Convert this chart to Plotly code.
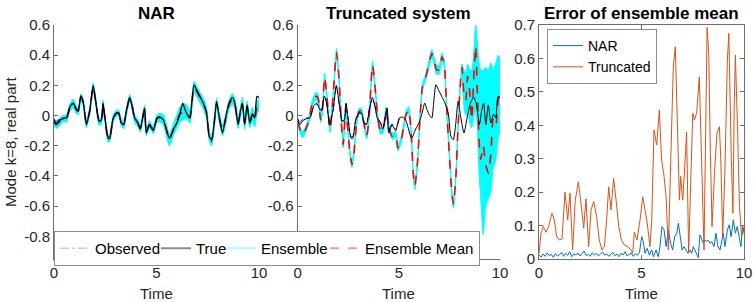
import numpy as np
import plotly.graph_objects as go

FONT = "Liberation Sans, Arial, Helvetica, sans-serif"
W, H = 753, 302

# ---------------- data ----------------
truth_time = [0, 0.1, 0.29, 0.45, 0.61, 0.78, 0.94, 1.1, 1.18, 1.31,
              1.42, 1.58, 1.75, 1.91, 2.07, 2.2, 2.31, 2.39, 2.48, 2.64,
              2.72, 2.88, 3.04, 3.16, 3.28, 3.4, 3.53, 3.69, 3.82, 3.93,
              4.09, 4.21, 4.42, 4.5, 4.66, 4.74, 4.85, 5.02, 5.18, 5.34,
              5.63, 5.83, 5.99, 6.15, 6.28, 6.39, 6.5, 6.63, 6.72, 6.83,
              6.96, 7.12, 7.28, 7.44, 7.57, 7.69, 7.8, 7.93, 8.06, 8.22,
              8.38, 8.54, 8.7, 8.82, 8.98, 9.09, 9.19, 9.3, 9.42, 9.55,
              9.68, 9.79, 9.9, 10.0]
truth = [-0.03, -0.06, -0.03, -0.02, -0.016, 0.06, 0.083, 0.04, 0.03, 0.13,
         0.094, -0.06, 0.04, 0.2, 0.06, -0.04, -0.03, 0.083, -0.01, -0.15,
         -0.15, -0.02, 0.017, 0.017, -0.05, -0.06, 0.03, 0.12, 0.06, -0.015,
         -0.05, -0.09, 0.05, -0.115, -0.06, -0.08, -0.1, -0.016, -0.01, -0.03,
         -0.15, -0.09, -0.05, 0.017, 0.083, 0.04, 0.006, -0.016, 0.083, 0.204,
         0.17, 0.127, 0.083, 0.017, -0.137, -0.16, -0.07, 0.094, -0.01, -0.115,
         -0.01, 0.083, 0.12, 0.083, -0.06, 0.03, 0.083, -0.06, 0.07, -0.05,
         0.01, -0.015, 0.127, 0.12]
nar_mean = [-0.04, -0.06, -0.04, -0.02, -0.02, 0.055, 0.08, 0.035, 0.03, 0.12,
            0.09, -0.055, 0.035, 0.19, 0.06, -0.04, -0.035, 0.075, -0.015, -0.15,
            -0.145, -0.025, 0.015, 0.015, -0.045, -0.06, 0.025, 0.115, 0.055, -0.02,
            -0.05, -0.085, 0.045, -0.11, -0.06, -0.075, -0.095, -0.02, -0.015, -0.03,
            -0.16, -0.09, -0.04, 0.01, 0.02, 0.03, 0.02, -0.01, 0.07, 0.19,
            0.16, 0.12, 0.08, 0.02, -0.13, -0.17, -0.07, 0.08, -0.01, -0.1,
            -0.02, 0.07, 0.11, 0.08, -0.05, 0.02, 0.08, -0.05, 0.06, -0.04,
            0.01, -0.03, 0.05, 0.07]
nar_spread = [0.02, 0.025, 0.025, 0.02, 0.025, 0.025, 0.03, 0.025, 0.025, 0.025,
              0.025, 0.025, 0.025, 0.025, 0.025, 0.025, 0.02, 0.025, 0.025, 0.025,
              0.025, 0.025, 0.02, 0.02, 0.025, 0.025, 0.025, 0.025, 0.025, 0.025,
              0.025, 0.025, 0.025, 0.025, 0.025, 0.02, 0.025, 0.025, 0.03, 0.035,
              0.04, 0.04, 0.045, 0.05, 0.05, 0.05, 0.045, 0.04, 0.04, 0.035,
              0.035, 0.035, 0.035, 0.04, 0.035, 0.03, 0.03, 0.035, 0.035, 0.035,
              0.035, 0.03, 0.035, 0.035, 0.035, 0.035, 0.04, 0.04, 0.035, 0.04,
              0.045, 0.045, 0.04, 0.04]

obs_time = truth_time[:38]
observed = [-0.02, -0.045, -0.02, -0.015, -0.01, 0.055, 0.075, 0.045, 0.035, 0.12,
            0.09, -0.05, 0.035, 0.19, 0.065, -0.035, -0.025, 0.075, -0.005, -0.14,
            -0.14, -0.025, 0.02, 0.01, -0.045, -0.055, 0.035, 0.11, 0.065, -0.01,
            -0.045, -0.08, 0.045, -0.105, -0.055, -0.07, -0.09, -0.02]

trunc_time = [0, 0.23, 0.39, 0.56, 0.72, 0.89, 1.0, 1.13, 1.21, 1.33,
              1.43, 1.6, 1.76, 1.92, 2.04, 2.15, 2.25, 2.37, 2.48, 2.58,
              2.68, 2.78, 2.91, 3.03, 3.14, 3.27, 3.41, 3.52, 3.7, 3.85,
              3.97, 4.1, 4.23, 4.36, 4.51, 4.67, 4.84, 4.95, 5.12, 5.35,
              5.48, 5.6, 5.71, 5.79, 5.92, 6.04, 6.17, 6.34, 6.5, 6.63,
              6.75, 6.86, 6.99, 7.13, 7.24, 7.36, 7.49, 7.62, 7.7, 7.82,
              7.92, 8.03, 8.12, 8.23, 8.31, 8.4, 8.51, 8.6, 8.72, 8.8,
              8.87, 8.97, 9.05, 9.17, 9.3, 9.43, 9.55, 9.66, 9.79, 9.91,
              10.0]
trunc_mean = [-0.04, -0.126, -0.093, -0.027, 0.083, 0.127, 0.12, -0.027, 0.017, 0.255,
              0.149, -0.093, 0.149, 0.418, 0.248, -0.027, -0.192, 0.05, -0.093, -0.247,
              -0.324, -0.247, -0.049, 0.028, 0.03, -0.049, -0.137, -0.027, 0.336, 0.149,
              -0.027, -0.104, -0.093, 0.039, -0.082, -0.137, -0.126, -0.214, -0.159, 0.006,
              0.039, -0.093, -0.38, -0.467, -0.313, -0.027, 0.193, 0.26, 0.347, 0.413,
              0.358, 0.303, 0.303, 0.39, 0.347, 0.061, -0.247, -0.511, -0.589, -0.4,
              -0.093, 0.193, 0.32, 0.127, 0.1, 0.26, 0.149, -0.027, 0.303, 0.46,
              0.193, -0.18, -0.29, -0.2, -0.33, -0.38, -0.247, -0.027, -0.07, 0.1,
              0.149]
trunc_spread = [0.02, 0.02, 0.02, 0.02, 0.02, 0.025, 0.025, 0.02, 0.02, 0.025,
                0.02, 0.02, 0.02, 0.025, 0.02, 0.02, 0.02, 0.02, 0.02, 0.02,
                0.02, 0.02, 0.02, 0.02, 0.02, 0.02, 0.02, 0.02, 0.025, 0.02,
                0.02, 0.02, 0.02, 0.02, 0.02, 0.02, 0.02, 0.02, 0.02, 0.02,
                0.02, 0.02, 0.02, 0.025, 0.02, 0.02, 0.02, 0.02, 0.025, 0.025,
                0.025, 0.03, 0.03, 0.025, 0.025, 0.02, 0.02, 0.025, 0.025, 0.02,
                0.02, 0.02, 0.02, 0.03, 0.03, 0.03, 0.03, 0.03, 0.03, 0.03,
                0.03, 0.03, 0.03, 0.03, 0.03, 0.03, 0.03, 0.03, 0.03, 0.03,
                0.03]
# late-time ensemble envelope of the truncated system (members diverge)
trunc_wide_time = [8.12, 8.23, 8.31, 8.4, 8.51, 8.6, 8.72, 8.8, 8.87, 8.97,
                   9.05, 9.17, 9.3, 9.43, 9.55, 9.66, 9.79, 9.91, 10.0]
trunc_wide_hi = [0.34, 0.3, 0.28, 0.34, 0.3, 0.3, 0.45, 0.61, 0.5, 0.35,
                 0.3, 0.3, 0.32, 0.3, 0.35, 0.3, 0.35, 0.4, 0.38]
trunc_wide_lo = [0.3, 0.05, 0.0, 0.02, -0.05, -0.08, 0.0, 0.03, -0.05, -0.4,
                 -0.55, -0.79, -0.6, -0.55, -0.5, -0.35, -0.3, -0.15, -0.1]

nar_err_time = [0.0, 0.1, 0.2, 0.3, 0.4, 0.5, 0.6, 0.7, 0.8, 0.9,
                1.0, 1.1, 1.2, 1.3, 1.4, 1.5, 1.6, 1.7, 1.8, 1.9,
                2.0, 2.1, 2.2, 2.3, 2.4, 2.5, 2.6, 2.7, 2.8, 2.9,
                3.0, 3.1, 3.2, 3.3, 3.4, 3.5, 3.6, 3.7, 3.8, 3.9,
                4.0, 4.1, 4.2, 4.3, 4.4, 4.5, 4.6, 4.7, 4.8, 4.9,
                5.01, 5.09, 5.17, 5.28, 5.38, 5.5, 5.58, 5.71, 5.82, 5.9,
                6.0, 6.1, 6.2, 6.31, 6.42, 6.52, 6.62, 6.72, 6.8, 6.88,
                6.98, 7.07, 7.17, 7.27, 7.37, 7.45, 7.53, 7.61, 7.69, 7.77,
                7.85, 7.94, 8.02, 8.1, 8.18, 8.26, 8.34, 8.42, 8.54, 8.63,
                8.73, 8.83, 8.91, 8.99, 9.07, 9.19, 9.28, 9.37, 9.48, 9.58,
                9.67, 9.77, 9.85, 9.93, 10.0]
nar_err = [0.012, 0.006, 0.015, 0.008, 0.018, 0.01, 0.014, 0.005, 0.016, 0.009,
           0.013, 0.02, 0.008, 0.017, 0.011, 0.022, 0.007, 0.015, 0.012, 0.018,
           0.009, 0.016, 0.024, 0.01, 0.014, 0.008, 0.019, 0.012, 0.017, 0.009,
           0.015, 0.021, 0.011, 0.016, 0.008, 0.013, 0.02, 0.01, 0.015, 0.007,
           0.017, 0.012, 0.022, 0.009, 0.014, 0.018, 0.008, 0.016, 0.011, 0.019,
           0.067, 0.052, 0.017, 0.032, 0.012, 0.027, 0.007, 0.027, 0.007, 0.037,
           0.097, 0.087, 0.037, 0.087, 0.047, 0.027, 0.067, 0.077, 0.107, 0.077,
           0.027, 0.037, 0.027, 0.017, 0.027, 0.017, 0.037, 0.027, 0.017, 0.004,
           0.072, 0.057, 0.047, 0.057, 0.052, 0.057, 0.047, 0.052, 0.037, 0.077,
           0.037, 0.027, 0.057, 0.077, 0.037, 0.087, 0.102, 0.067, 0.117, 0.077,
           0.097, 0.067, 0.037, 0.097, 0.077]
trunc_err_time = [0.0, 0.1, 0.21, 0.34, 0.47, 0.63, 0.75, 0.86, 0.99, 1.12,
                  1.27, 1.4, 1.51, 1.64, 1.77, 1.92, 2.05, 2.18, 2.29, 2.42,
                  2.54, 2.67, 2.81, 2.94, 3.07, 3.19, 3.3, 3.4, 3.51, 3.64,
                  3.76, 3.89, 4.02, 4.16, 4.33, 4.49, 4.57, 4.65, 4.78, 4.93,
                  5.06, 5.17, 5.28, 5.41, 5.5, 5.61, 5.74, 5.87, 5.98, 6.1,
                  6.2, 6.31, 6.42, 6.55, 6.65, 6.75, 6.85, 6.91, 7.01, 7.1,
                  7.2, 7.3, 7.4, 7.5, 7.58, 7.69, 7.82, 7.94, 8.05, 8.2,
                  8.28, 8.36, 8.44, 8.56, 8.68, 8.8, 8.87, 8.96, 9.07, 9.19,
                  9.26, 9.38, 9.46, 9.52, 9.58, 9.68, 9.78, 9.88, 10.0]
trunc_err = [0.017, 0.077, 0.097, 0.08, 0.097, 0.137, 0.117, 0.067, 0.057, 0.06,
             0.2, 0.117, 0.197, 0.027, 0.176, 0.231, 0.166, 0.092, 0.18, 0.037,
             0.147, 0.172, 0.127, 0.057, 0.027, 0.037, 0.117, 0.216, 0.147, 0.241,
             0.176, 0.097, 0.057, 0.042, 0.037, 0.027, 0.017, 0.08, 0.057, 0.117,
             0.186, 0.147, 0.107, 0.037, 0.117, 0.386, 0.341, 0.446, 0.296, 0.247,
             0.186, 0.027, 0.316, 0.575, 0.635, 0.416, 0.176, 0.247, 0.176, 0.266,
             0.38, 0.017, 0.207, 0.436, 0.416, 0.436, 0.545, 0.276, 0.027, 0.693,
             0.615, 0.316, 0.097, 0.256, 0.376, 0.396, 0.296, 0.067, 0.266, 0.595,
             0.675, 0.3, 0.137, 0.45, 0.61, 0.4, 0.157, 0.067, 0.097]

ts_ticks = [-0.8, -0.6, -0.4, -0.2, 0, 0.2, 0.4, 0.6]
ts_ticktext = ["-0.8", "-0.6", "-0.4", "-0.2", "0", "0.2", "0.4", "0.6"]
err_ticks = [0, 0.1, 0.2, 0.3, 0.4, 0.5, 0.6, 0.7]
err_ticktext = ["0", "0.1", "0.2", "0.3", "0.4", "0.5", "0.6", "0.7"]
time_ticks = [0, 5, 10]
time_ticktext = ["0", "5", "10"]

titles = ["NAR", "Truncated system", "Error of ensemble mean"]
ylabel = "Mode k=8, real part"
xlabel = "Time"

assert len(truth_time) == len(truth) == len(nar_mean) == len(nar_spread)
assert len(obs_time) == len(observed)
assert len(trunc_time) == len(trunc_mean) == len(trunc_spread)
assert len(trunc_wide_time) == len(trunc_wide_hi) == len(trunc_wide_lo)
assert len(nar_err_time) == len(nar_err)
assert len(trunc_err_time) == len(trunc_err)

# ---------------- figure ----------------
CYAN = "#00FFFF"
fig = go.Figure()


def band(x, lo, hi, xa, ya, shape="spline"):
    fig.add_trace(go.Scatter(x=x, y=lo, mode="lines", xaxis=xa, yaxis=ya,
                             line=dict(color=CYAN, width=1, shape=shape, smoothing=0.6),
                             showlegend=False, hoverinfo="skip"))
    fig.add_trace(go.Scatter(x=x, y=hi, mode="lines", xaxis=xa, yaxis=ya, fill="tonexty",
                             fillcolor=CYAN,
                             line=dict(color=CYAN, width=1, shape=shape, smoothing=0.6),
                             showlegend=False, hoverinfo="skip"))


def panel(xa, ya, mean, mtime, spread):
    m = np.array(mean)
    s = np.array(spread)
    band(mtime, m - s, m + s, xa, ya)
    fig.add_trace(go.Scatter(x=mtime, y=mean, mode="lines", xaxis=xa, yaxis=ya,
                             line=dict(color="#FF0000", width=1.6, dash="dash",
                                       shape="spline", smoothing=0.6),
                             showlegend=False))


# Panel 1: NAR
panel("x", "y", nar_mean, truth_time, nar_spread)
fig.add_trace(go.Scatter(x=obs_time, y=observed, mode="lines", xaxis="x", yaxis="y",
                         line=dict(color="#0000FF", width=1, dash="dashdot",
                                   shape="spline", smoothing=0.6), showlegend=False))
fig.add_trace(go.Scatter(x=truth_time, y=truth, mode="lines", xaxis="x", yaxis="y",
                         line=dict(color="#000000", width=1.3, shape="spline", smoothing=0.6),
                         showlegend=False))

# Panel 2: Truncated
band(trunc_wide_time, trunc_wide_lo, trunc_wide_hi, "x2", "y2")
panel("x2", "y2", trunc_mean, trunc_time, trunc_spread)
fig.add_trace(go.Scatter(x=obs_time, y=observed, mode="lines", xaxis="x2", yaxis="y2",
                         line=dict(color="#0000FF", width=1, dash="dashdot",
                                   shape="spline", smoothing=0.6), showlegend=False))
fig.add_trace(go.Scatter(x=truth_time, y=truth, mode="lines", xaxis="x2", yaxis="y2",
                         line=dict(color="#000000", width=1, shape="spline", smoothing=0.6),
                         showlegend=False))

# legend-only entries (faded as in the reference); legendwidth sets entry spacing
for name, col, dash, wd, lw in [("Observed", "#c8c8ff", "dashdot", 1.5, 56),
                                ("True", "#8c8c8c", "solid", 2, 20),
                                ("Ensemble", "#aaffff", "solid", 2, 59),
                                ("Ensemble Mean", "#ff9a9a", "dash", 2, None)]:
    kw = {} if lw is None else dict(legendwidth=lw)
    fig.add_trace(go.Scatter(x=[None], y=[None], mode="lines", name=name,
                             xaxis="x", yaxis="y",
                             line=dict(color=col, dash=dash, width=wd), legend="legend",
                             **kw))

# Panel 3: errors
fig.add_trace(go.Scatter(x=nar_err_time, y=nar_err, mode="lines", name="NAR",
                         xaxis="x3", yaxis="y3", line=dict(color="#0072BD", width=1),
                         legend="legend2"))
fig.add_trace(go.Scatter(x=trunc_err_time, y=trunc_err, mode="lines", name="Truncated",
                         xaxis="x3", yaxis="y3", line=dict(color="#D95319", width=1),
                         legend="legend2"))

AX_COL = "#6e6e6e"
TXT = "#262626"
common = dict(showgrid=False, zeroline=False, showline=True, linecolor=AX_COL,
              linewidth=1, ticks="inside", ticklen=4, tickcolor=AX_COL,
              automargin=False,
              tickfont=dict(family=FONT, size=15, color=TXT))

yb, yt = (H - 259) / H, (H - 25) / H
doms = [(54 / W, 259 / W), (297.7 / W, 500 / W), (539 / W, 744 / W)]

layout = dict(width=W, height=H, margin=dict(l=0, r=0, t=0, b=0, autoexpand=False),
              paper_bgcolor="white", plot_bgcolor="white", autosize=False,
              font=dict(family=FONT, color=TXT))
for i, (d0, d1) in enumerate(doms):
    sfx = "" if i == 0 else str(i + 1)
    layout["xaxis" + sfx] = dict(common, domain=[d0, d1], range=[0, 10],
                                 anchor="y" + sfx, tickvals=time_ticks,
                                 ticktext=time_ticktext,
                                 mirror="ticks" if i == 2 else False)
    if i < 2:
        layout["yaxis" + sfx] = dict(common, domain=[yb, yt], range=[-0.95, 0.6],
                                     anchor="x" + sfx, tickvals=ts_ticks,
                                     ticktext=ts_ticktext)
    else:
        layout["yaxis" + sfx] = dict(common, domain=[yb, yt], range=[0, 0.7],
                                     anchor="x" + sfx, tickvals=err_ticks,
                                     ticktext=err_ticktext, mirror="ticks")

layout["legend"] = dict(orientation="h", x=54 / W, y=(H - 231) / H, xanchor="left",
                        yanchor="top", bgcolor="white", bordercolor="#8c8c8c",
                        borderwidth=1, font=dict(family=FONT, size=15, color="#000"),
                        traceorder="normal", itemwidth=30)
layout["legend2"] = dict(orientation="v", x=547 / W, y=(H - 29) / H, xanchor="left",
                         yanchor="top", bgcolor="white", bordercolor="#8c8c8c",
                         borderwidth=1, font=dict(family=FONT, size=14, color="#000"),
                         traceorder="normal", itemwidth=30, tracegroupgap=0)

annotations = []
for (d0, d1), t in zip(doms, titles):
    annotations.append(dict(text="<b>%s</b>" % t, x=(d0 + d1) / 2, y=(H - 13) / H,
                            xref="paper", yref="paper", showarrow=False,
                            font=dict(family=FONT, size=17, color="#000"),
                            xanchor="center", yanchor="middle"))
    annotations.append(dict(text=xlabel, x=(d0 + d1) / 2, y=(H - 293) / H,
                            xref="paper", yref="paper", showarrow=False,
                            font=dict(family=FONT, size=15, color=TXT),
                            xanchor="center", yanchor="middle"))
annotations.append(dict(text=ylabel, x=10 / W, y=(H - 142) / H, xref="paper",
                        yref="paper", showarrow=False, textangle=-90,
                        font=dict(family=FONT, size=15, color=TXT),
                        xanchor="center", yanchor="middle"))
layout["annotations"] = annotations

fig.update_layout(**layout)
fig.write_html("out.html",
               config={"displayModeBar": False, "staticPlot": True},
               post_script="document.body.style.margin='0';"
                           "document.body.style.overflow='hidden';")
